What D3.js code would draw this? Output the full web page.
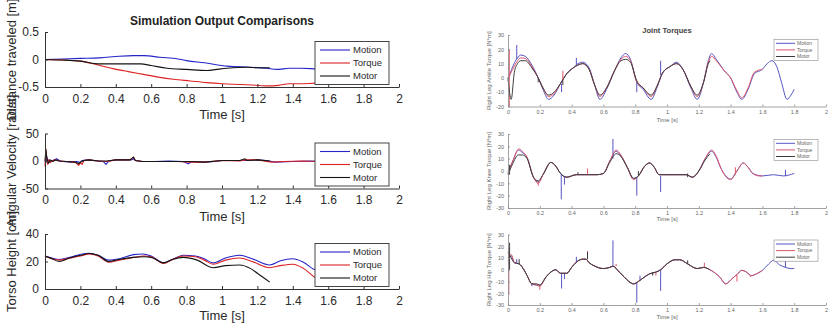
<!DOCTYPE html>
<html><head><meta charset="utf-8">
<script src="https://cdn.jsdelivr.net/npm/d3@7"></script>
<style>body{margin:0;background:#fff;} svg{display:block;font-family:Arial,"Liberation Sans",sans-serif;}</style>
</head><body><svg id="c" width="834" height="324"></svg>
<script>
// ---------------- DATA ----------------
const seriesNames = ["Motion", "Torque", "Motor"];
const timeTicks = [0, 0.2, 0.4, 0.6, 0.8, 1, 1.2, 1.4, 1.6, 1.8, 2];
const timeTickLabels = ["0", "0.2", "0.4", "0.6", "0.8", "1", "1.2", "1.4", "1.6", "1.8", "2"];
const distTicks = [-0.5, 0, 0.5];
const angTicks = [-50, 0, 50];
const torsoTicks = [0, 20, 40];
const ankleTicks = [-20, -10, 0, 10, 20, 30];
const kneeTicks = [-30, -20, -10, 0, 10, 20, 30];
const hipTicks = [-30, -20, -10, 0, 10, 20, 30];

// Distance traveled [m]
const distMotion = [[0,0],[0.1,0.01],[0.2,0.02],[0.31,0.03],[0.42,0.06],[0.5,0.07],[0.56,0.07],[0.65,0.04],[0.75,0.01],[0.8,-0.02],[0.9,-0.06],[1.03,-0.12],[1.16,-0.14],[1.25,-0.16],[1.31,-0.18],[1.38,-0.16],[1.45,-0.16],[1.53,-0.17],[1.65,-0.18],[1.8,-0.2]];
const distTorque = [[0,0],[0.1,-0.01],[0.2,-0.03],[0.3,-0.1],[0.39,-0.17],[0.47,-0.22],[0.556,-0.27],[0.64,-0.32],[0.725,-0.36],[0.82,-0.39],[0.914,-0.42],[1.0,-0.44],[1.06,-0.45],[1.15,-0.46],[1.25,-0.48],[1.32,-0.47],[1.38,-0.44],[1.45,-0.44],[1.53,-0.43],[1.6,-0.43]];
const distMotor = [[0,0],[0.1,-0.01],[0.2,-0.03],[0.31,-0.08],[0.42,-0.08],[0.54,-0.08],[0.6,-0.11],[0.69,-0.16],[0.8,-0.18],[0.914,-0.2],[0.97,-0.18],[1.03,-0.16],[1.14,-0.14],[1.2,-0.15],[1.27,-0.15]];

// Angular Velocity [rad/s]
const angMotion = [[0,0],[0.005,-3],[0.01,8],[0.015,-2],[0.025,2],[0.035,-1],[0.05,2],[0.066,4],[0.08,1],[0.1,-1],[0.15,-2],[0.18,-1],[0.19,-2],[0.2,-3],[0.21,1],[0.24,2],[0.3,0],[0.33,-1],[0.345,-6],[0.36,0],[0.4,2],[0.45,2],[0.49,2],[0.5,4],[0.51,1],[0.55,-1],[0.62,-1],[0.7,0],[0.78,-1],[0.81,-5],[0.83,-1],[0.9,-2],[0.96,-1],[1.0,1],[1.06,1],[1.13,1],[1.2,2],[1.25,1],[1.3,-2],[1.4,-1],[1.5,0],[1.6,-1],[1.7,0],[1.8,0]];
const angTorque = [[0,-10],[0.005,22],[0.01,5],[0.015,-6],[0.02,2],[0.03,-3],[0.045,1],[0.06,2],[0.08,0],[0.12,-1],[0.17,-2],[0.19,-8],[0.2,-3],[0.21,-6],[0.22,1],[0.25,2],[0.3,0],[0.35,-1],[0.4,2],[0.48,2],[0.5,7],[0.51,1],[0.55,-1],[0.65,-1],[0.75,-1],[0.82,-2],[0.9,-2],[1.0,1],[1.1,0],[1.13,2],[1.2,2],[1.28,-2],[1.35,-1],[1.45,0],[1.55,-1],[1.6,0]];
const angMotor = [[0,0],[0.005,20],[0.01,6],[0.015,0],[0.02,-4],[0.03,2],[0.045,-1],[0.06,2],[0.08,0],[0.12,-1],[0.17,-2],[0.19,-5],[0.2,-2],[0.22,1],[0.25,2],[0.3,0],[0.35,0],[0.4,2],[0.48,2],[0.5,7],[0.51,1],[0.55,-1],[0.65,-1],[0.75,-1],[0.82,-1],[0.9,-2],[1.0,1],[1.1,1],[1.13,4],[1.14,1],[1.2,2],[1.27,0]];

// Torso Height [cm]
const torsoMotion = [[0,24],[0.04,22.5],[0.08,21.5],[0.14,23],[0.21,25.5],[0.25,26],[0.3,24.5],[0.36,21],[0.42,22],[0.5,25],[0.55,25.5],[0.6,24],[0.67,19],[0.72,21.5],[0.78,24.5],[0.85,24],[0.9,22],[0.95,19],[1.02,22.5],[1.1,24.5],[1.17,22],[1.27,17.5],[1.33,20.5],[1.4,22],[1.46,19.5],[1.53,14],[1.6,16],[1.7,20],[1.8,17]];
const torsoTorque = [[0,24],[0.04,22],[0.08,21],[0.14,22.5],[0.2,24],[0.25,25.5],[0.3,24],[0.36,19.5],[0.42,21],[0.5,23],[0.56,24],[0.6,23.5],[0.67,18.5],[0.72,21.5],[0.78,24],[0.85,23.5],[0.9,21],[0.95,18],[1.02,21],[1.1,22.5],[1.17,20],[1.27,15.5],[1.33,17],[1.4,18],[1.46,15],[1.53,8],[1.6,5]];
const torsoMotor = [[0,24],[0.04,22],[0.08,20],[0.14,22.5],[0.2,24.5],[0.25,25.8],[0.3,24.5],[0.36,20],[0.42,21.5],[0.5,23],[0.56,23.5],[0.6,23],[0.67,19],[0.72,21.5],[0.78,23],[0.86,21],[0.95,15.5],[1.02,17],[1.1,17.5],[1.16,15],[1.2,11.5],[1.27,5]];

// Right Leg Ankle Torque [N*m]
const ankleMotion = [[0,-2],[0.03,8],[0.06,14],[0.08,16],[0.11,15],[0.15,9],[0.19,0],[0.22,-8],[0.255,-15],[0.29,-12],[0.33,-4],[0.37,3],[0.41,7],[0.44,10],[0.47,11],[0.51,7],[0.545,-5],[0.578,-15],[0.62,-8],[0.67,5],[0.71,14],[0.74,17],[0.77,13],[0.81,-3],[0.85,-8],[0.9,-15],[0.94,-6],[0.97,3],[1.02,8],[1.06,11],[1.1,6],[1.15,-7],[1.19,-15],[1.23,-3],[1.26,12],[1.28,17],[1.31,13],[1.36,5],[1.4,0],[1.44,-10],[1.47,-15],[1.51,-8],[1.55,3],[1.6,6],[1.63,10],[1.66,12],[1.69,8],[1.72,-3],[1.755,-15],[1.78,-12],[1.8,-8]];
const ankleTorque = [[0,0],[0.03,6],[0.06,12],[0.08,14],[0.11,13.5],[0.15,8],[0.19,0],[0.22,-7],[0.255,-13],[0.29,-11],[0.33,-4],[0.37,3],[0.41,7],[0.44,9],[0.47,10],[0.51,6],[0.545,-5],[0.578,-13],[0.62,-7],[0.67,5],[0.71,13],[0.74,15],[0.77,12],[0.81,-3],[0.85,-7],[0.9,-13],[0.94,-5],[0.97,3],[1.02,8],[1.06,10],[1.1,6],[1.15,-6],[1.19,-13],[1.23,-3],[1.26,11],[1.28,15],[1.31,12],[1.36,5],[1.4,0],[1.44,-9],[1.47,-14],[1.51,-7],[1.55,4],[1.6,6]];
const ankleMotor = [[0,0],[0.02,-15],[0.04,4],[0.06,10],[0.08,12],[0.11,12],[0.15,7],[0.19,0],[0.22,-7],[0.255,-12],[0.29,-10],[0.33,-4],[0.37,3],[0.41,7],[0.44,9],[0.47,10],[0.51,6],[0.545,-5],[0.578,-12],[0.62,-7],[0.67,5],[0.71,12],[0.74,13],[0.77,11],[0.81,-2],[0.85,-7],[0.9,-12],[0.94,-5],[0.97,3],[1.02,8],[1.06,10],[1.1,6],[1.15,-6],[1.19,-12],[1.23,-3],[1.26,10],[1.27,12]];
const ankleMotionSpikes = [[0.055,13,23],[0.337,-4,-10],[0.43,9,14],[0.81,-3,-10],[0.96,2,12]];
const ankleTorqueSpikes = [[0.008,20,-20],[0.345,-2,5]];
const ankleMotorSpikes = [[0.19,0,-3],[0.345,-2,-5]];

// Right Leg Knee Torque [N*m]
const kneeMotion = [[0,-1],[0.03,8],[0.065,17],[0.09,15],[0.12,11],[0.16,-5],[0.19,-9],[0.22,-3],[0.27,7],[0.3,4],[0.33,-2],[0.37,-5],[0.43,-3],[0.5,-3],[0.56,-3],[0.6,-2],[0.64,8],[0.68,16],[0.71,12],[0.75,3],[0.79,-6],[0.82,-4],[0.86,4],[0.89,6.5],[0.92,3],[0.95,-3],[1.0,-3],[1.06,-3],[1.12,-3],[1.16,-5],[1.2,0],[1.24,10],[1.28,16],[1.31,11],[1.34,2],[1.4,-6.5],[1.44,0],[1.48,6.5],[1.51,3],[1.54,-2],[1.6,-4],[1.67,-3],[1.73,-4],[1.8,-2]];
const kneeTorque = [[0,-2],[0.03,8],[0.07,18],[0.09,16],[0.12,11],[0.16,-5],[0.19,-10],[0.22,-3],[0.27,7],[0.3,4],[0.33,-2],[0.37,-5],[0.43,-3],[0.5,-3],[0.56,-3],[0.6,-2],[0.64,8],[0.68,17],[0.71,13],[0.75,3],[0.79,-7],[0.82,-4],[0.86,4],[0.89,6.5],[0.92,3],[0.95,-3],[1.0,-3],[1.06,-3],[1.12,-3],[1.16,-5],[1.2,0],[1.24,10],[1.28,17],[1.31,12],[1.34,2],[1.4,-7],[1.44,0],[1.48,6.5],[1.51,3],[1.54,-2],[1.58,-4],[1.6,-4]];
const kneeMotor = [[0,-3],[0.03,6],[0.065,13],[0.09,13],[0.12,10],[0.16,-5],[0.19,-8],[0.22,-3],[0.27,7],[0.3,4],[0.33,-2],[0.37,-5],[0.43,-3],[0.5,-3],[0.56,-3],[0.6,-2],[0.64,7],[0.68,14],[0.71,12],[0.75,3],[0.79,-6],[0.82,-4],[0.86,4],[0.89,6.5],[0.92,3],[0.95,-3],[1.0,-3],[1.06,-3],[1.12,-3],[1.16,-5],[1.2,0],[1.24,9],[1.27,14]];
const kneeMotionSpikes = [[0.335,-2,-23],[0.355,-4,-11],[0.66,10,26],[0.81,-5,-20],[0.96,-4,-17],[1.745,-4,1]];
const kneeTorqueSpikes = [[0.19,-8,-12],[0.5,-3,2],[1.43,-3,3]];
const kneeMotorSpikes = [[0.01,-3,5],[0.44,-3,-1],[0.82,-4,0],[1.13,-5,-2]];

// Right Leg Hip Torque [N*m]
const hipMotion = [[0,8],[0.02,12],[0.04,6],[0.07,5],[0.1,0],[0.12,-5],[0.15,-12],[0.18,-13],[0.2,-13],[0.24,-6],[0.28,-1],[0.3,0],[0.33,-3],[0.37,-3],[0.4,2],[0.43,6.5],[0.47,9],[0.49,9],[0.51,6],[0.54,3.5],[0.6,1],[0.64,2],[0.66,3],[0.7,-2],[0.73,-6],[0.76,-10],[0.79,-12],[0.82,-10],[0.86,-6],[0.89,-3.5],[0.93,-2],[0.96,0],[1.0,5],[1.05,8.5],[1.08,8.5],[1.13,5],[1.19,1],[1.23,2],[1.27,0],[1.33,-6],[1.37,-12],[1.41,-7.5],[1.44,-4],[1.47,-0.5],[1.5,-2],[1.53,-5],[1.57,-3],[1.6,-0.5],[1.64,5],[1.67,8],[1.71,4],[1.745,2],[1.78,1],[1.8,1]];
const hipTorque = [[0,10],[0.02,13],[0.04,6],[0.07,5],[0.1,0],[0.12,-5],[0.15,-12],[0.18,-13],[0.2,-14],[0.24,-6],[0.28,-1],[0.3,0],[0.33,-3],[0.37,-3],[0.4,2],[0.43,6.5],[0.47,9],[0.49,9],[0.51,6],[0.54,3.5],[0.6,1],[0.64,2],[0.66,3],[0.7,-2],[0.73,-6],[0.76,-10],[0.79,-12],[0.82,-10],[0.86,-6],[0.89,-3.5],[0.93,-2],[0.96,0],[1.0,5],[1.05,8.5],[1.08,8.5],[1.13,5],[1.19,1],[1.23,2],[1.27,0],[1.33,-6],[1.37,-12],[1.41,-7.5],[1.44,-4],[1.47,-0.5],[1.5,-2],[1.53,-5],[1.57,-3],[1.6,-0.5]];
const hipMotor = [[0,15],[0.02,10],[0.04,6],[0.07,5],[0.1,0],[0.12,-5],[0.15,-12],[0.18,-12],[0.2,-13],[0.24,-6],[0.28,-1],[0.3,0],[0.33,-3],[0.37,-3],[0.4,2],[0.43,6.5],[0.47,9],[0.49,9],[0.51,6],[0.54,3.5],[0.6,1],[0.64,2],[0.66,3],[0.7,-2],[0.73,-6],[0.76,-10],[0.79,-12],[0.82,-10],[0.86,-6],[0.89,-3.5],[0.93,-2],[0.96,0],[1.0,5],[1.05,8.5],[1.08,8.5],[1.13,5],[1.19,1],[1.23,2],[1.27,0]];
const hipMotionSpikes = [[0.055,5,9],[0.15,-12,-14],[0.337,-3,-16],[0.355,-3,-8],[0.43,6,11],[0.66,3,25],[0.81,-11,-28],[0.83,-9,-5],[0.96,0,-18],[1.745,8,2]];
const hipTorqueSpikes = [[0.005,20,-20],[0.2,-13,-17],[0.5,9,16],[0.68,3,5],[0.93,-2,-5],[1.235,2,6],[1.44,-4,-10],[1.525,-5,-6]];
const hipMotorSpikes = [[0.01,0,23],[0.07,5,9],[0.5,9,15],[0.91,-2,-5],[1.13,5,8]];

// ---------------- DRAWING ----------------
const svg = d3.select("#c");
const leftX = d3.scaleLinear().domain([0, 2]).range([45, 399]);
const rightX = d3.scaleLinear().domain([0, 2]).range([508, 826]);

const leftStyle = {font: 12, labelFont: 13, axisColor: "#333", textColor: "#2a2a2a", tickLen: 3, padX: 7, padY: 6,
  colors: ["#2424c8", "#dc2222", "#151515"], lw: 1.1,
  legend: {x: 315, w: 74, step: 13, first: 8.5, line: [320, 350], textX: 353, font: 9.5}, yLabelX: 11};
const rightStyle = {font: 5.5, labelFont: 6, axisColor: "#8a8a8a", textColor: "#666", tickLen: 2, padX: 3.5, padY: 4,
  colors: ["#5555c4", "#e0566a", "#3c3c3c"], lw: 1,
  legend: {x: 774, w: 44, step: 6.6, first: 4, line: [776, 795], textX: 797, font: 5}, yLabelX: 489};

const panels = [
  {x: leftX, y: d3.scaleLinear().domain([-0.5, 0.5]).range([87, 32]), ticks: distTicks, label: "Distance traveled [m]",
   data: [distMotion, distTorque, distMotor], curve: d3.curveMonotoneX, st: leftStyle, legendTop: 41.5, xLabelY: 114},
  {x: leftX, y: d3.scaleLinear().domain([-50, 50]).range([188.5, 133.5]), ticks: angTicks, label: "Angular Velocity [rad/s]",
   data: [angMotion, angTorque, angMotor], curve: d3.curveLinear, st: leftStyle, legendTop: 143, xLabelY: 216},
  {x: leftX, y: d3.scaleLinear().domain([0, 40]).range([289, 234]), ticks: torsoTicks, label: "Torso Height [cm]",
   data: [torsoMotion, torsoTorque, torsoMotor], curve: d3.curveMonotoneX, st: leftStyle, legendTop: 243.5, xLabelY: 315},
  {x: rightX, y: d3.scaleLinear().domain([-20, 30]).range([106.5, 35]), ticks: ankleTicks, label: "Right Leg Ankle Torque [N*m]",
   data: [ankleMotion, ankleTorque, ankleMotor], spikes: [ankleMotionSpikes, ankleTorqueSpikes, ankleMotorSpikes],
   curve: d3.curveMonotoneX, st: rightStyle, legendTop: 39.3, xLabelY: 120},
  {x: rightX, y: d3.scaleLinear().domain([-30, 30]).range([208, 134]), ticks: kneeTicks, label: "Right Leg Knee Torque [N*m]",
   data: [kneeMotion, kneeTorque, kneeMotor], spikes: [kneeMotionSpikes, kneeTorqueSpikes, kneeMotorSpikes],
   curve: d3.curveMonotoneX, st: rightStyle, legendTop: 139.3, xLabelY: 218.5},
  {x: rightX, y: d3.scaleLinear().domain([-30, 30]).range([305, 234.5]), ticks: hipTicks, label: "Right Leg Hip Torque [N*m]",
   data: [hipMotion, hipTorque, hipMotor], spikes: [hipMotionSpikes, hipTorqueSpikes, hipMotorSpikes],
   curve: d3.curveMonotoneX, st: rightStyle, legendTop: 240, xLabelY: 317}
];

panels.forEach(p => {
  const st = p.st;
  const g = svg.append("g");
  const [x0, x1] = p.x.range();
  const [yb, yt] = p.y.range();

  // series lines
  p.data.forEach((ser, i) => {
    const line = d3.line().x(d => p.x(d[0])).y(d => p.y(d[1])).curve(p.curve);
    g.append("path").attr("d", line(ser)).attr("fill", "none")
      .attr("stroke", st.colors[i]).attr("stroke-width", st.lw).attr("stroke-linejoin", "round");
    if (p.spikes) {
      p.spikes[i].forEach(s => {
        g.append("line").attr("x1", p.x(s[0])).attr("x2", p.x(s[0]))
          .attr("y1", p.y(s[1])).attr("y2", p.y(s[2]))
          .attr("stroke", st.colors[i]).attr("stroke-width", st.lw);
      });
    }
  });

  // axes
  const xa = d3.axisBottom(p.x).tickValues(timeTicks).tickFormat((d, i) => timeTickLabels[i])
    .tickSizeInner(-st.tickLen).tickSizeOuter(0).tickPadding(st.padX);
  const ya = d3.axisLeft(p.y).tickValues(p.ticks).tickFormat(d => String(d))
    .tickSizeInner(-st.tickLen).tickSizeOuter(0).tickPadding(st.padY);
  const gx = g.append("g").attr("transform", `translate(0,${yb})`).call(xa);
  const gy = g.append("g").attr("transform", `translate(${x0},0)`).call(ya);
  [gx, gy].forEach(a => {
    a.select(".domain").attr("stroke", st.axisColor).attr("stroke-width", st === leftStyle ? 1 : 0.8);
    a.selectAll(".tick line").attr("stroke", st.axisColor).attr("stroke-width", st === leftStyle ? 1 : 0.8);
    a.selectAll(".tick text").attr("fill", st.textColor).style("font-size", st.font + "px").attr("font-family", null);
  });

  // axis labels
  g.append("text").attr("x", (x0 + x1) / 2).attr("y", p.xLabelY).attr("dy", "0.35em")
    .attr("text-anchor", "middle").style("font-size", st.labelFont + "px").attr("fill", st.textColor).text("Time [s]");
  g.append("text").attr("transform", `translate(${st.yLabelX},${(yb + yt) / 2}) rotate(-90)`).attr("dy", "0.35em")
    .attr("text-anchor", "middle").style("font-size", st.labelFont + "px").attr("fill", st.textColor).text(p.label);

  // legend
  const L = st.legend;
  const lg = g.append("g");
  lg.append("rect").attr("x", L.x).attr("y", p.legendTop).attr("width", L.w).attr("height", L.first * 2 + L.step * 2)
    .attr("fill", "#fff").attr("stroke", st.axisColor).attr("stroke-width", st === leftStyle ? 0.9 : 0.6);
  seriesNames.forEach((n, i) => {
    const yy = p.legendTop + L.first + i * L.step;
    lg.append("line").attr("x1", L.line[0]).attr("x2", L.line[1]).attr("y1", yy).attr("y2", yy)
      .attr("stroke", st.colors[i]).attr("stroke-width", st.lw);
    lg.append("text").attr("x", L.textX).attr("y", yy).attr("dy", "0.35em").style("font-size", L.font + "px")
      .attr("fill", st.textColor).text(n);
  });
});

// titles
svg.append("text").attr("x", 222).attr("y", 21).attr("dy", "0.35em").attr("text-anchor", "middle")
  .style("font-size", "12px").style("font-weight", "bold").attr("fill", "#222").text("Simulation Output Comparisons");
svg.append("text").attr("x", 667).attr("y", 30).attr("dy", "0.35em").attr("text-anchor", "middle")
  .style("font-size", "7.6px").style("font-weight", "bold").attr("fill", "#444").text("Joint Torques");
</script>
</body></html>
